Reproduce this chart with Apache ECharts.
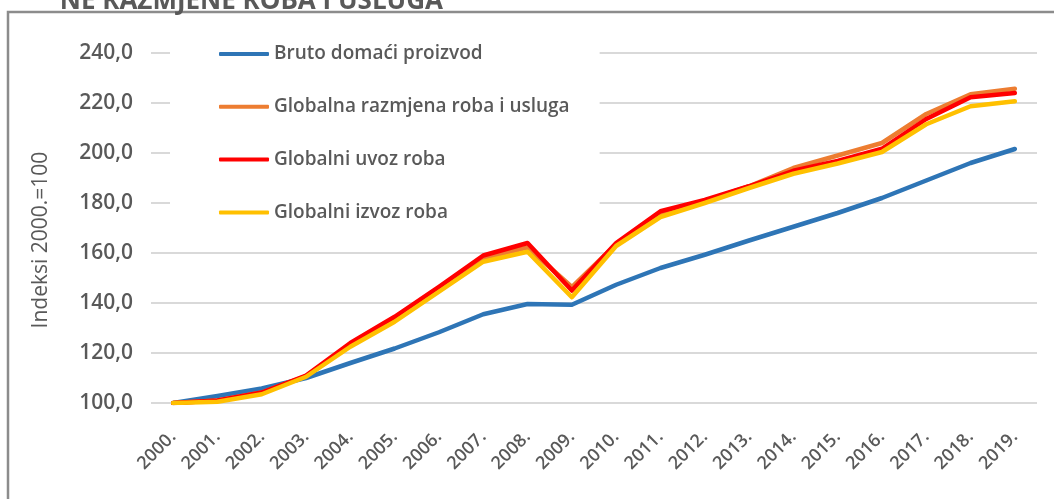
<!DOCTYPE html>
<html>
<head>
<meta charset="utf-8">
<script src="https://cdn.jsdelivr.net/npm/echarts@6/dist/echarts.min.js"></script>
<style>
  html, body { margin: 0; padding: 0; background: #fff; }
  #chart { width: 1054px; height: 499px; }
</style>
</head>
<body>
<div id="chart"></div>
<script>
  'use strict';

  // godine
  var years = ['2000.', '2001.', '2002.', '2003.', '2004.', '2005.', '2006.', '2007.', '2008.', '2009.',
    '2010.', '2011.', '2012.', '2013.', '2014.', '2015.', '2016.', '2017.', '2018.', '2019.'];

  var seriesNames = ['Bruto domaći proizvod', 'Globalna razmjena roba i usluga', 'Globalni uvoz roba', 'Globalni izvoz roba'];

  // indeksi, 2000. = 100
  var bdp = [100, 102.8, 105.8, 110, 116, 121.8, 128.3, 135.5, 139.6, 139.3,
    147.3, 154, 159.3, 165, 170.5, 176, 182, 189, 196, 201.6];
  var razmjena = [100, 101, 104.2, 110.8, 123.2, 133.5, 145.5, 158, 162.2, 146.4,
    163.6, 176, 180.7, 186.7, 194, 199, 204, 215.6, 223.5, 225.7];
  var uvoz = [100, 101, 104.2, 111, 124, 134.5, 146.5, 159, 164, 145,
    164, 176.7, 181.2, 186.7, 192.9, 196.8, 201.7, 213.6, 222.3, 224];
  var izvoz = [100, 100.5, 103.5, 110.5, 122.5, 132.5, 144.5, 156.5, 160.5, 142.3,
    162.8, 174.4, 180, 186, 191.7, 195.8, 200.4, 211.5, 218.7, 220.7];

  var colors = ['#2E75B6', '#ED7D31', '#FF0000', '#FFC000'];
  var txt = '#595959';
  var font = '"Open Sans", "Liberation Sans", Arial, sans-serif';

  function line(name, data, color) {
    return {
      name: name,
      type: 'line',
      data: data,
      symbol: 'none',
      color: color,
      lineStyle: { width: 4.5, color: color, cap: 'round', join: 'round' }
    };
  }

  var myChart = echarts.init(document.getElementById('chart'));
  var options = {
    animation: false,
    textStyle: { fontFamily: font },
    graphic: [
      {
        type: 'text',
        z: 10,
        style: {
          x: 443,
          y: 15,
          align: 'right',
          verticalAlign: 'bottom',
          text: 'NE RAZMJENE ROBA I USLUGA',
          font: 'bold 26px ' + font,
          fill: txt
        }
      },
      {
        type: 'rect',
        shape: { x: 8, y: 12, width: 1070, height: 520 },
        style: { fill: 'none', stroke: '#8c8c8c', lineWidth: 2.5 },
        z: 0
      },
      {
        type: 'text',
        rotation: Math.PI / 2,
        x: 41,
        y: 240,
        style: {
          text: 'Indeksi 2000.=100',
          align: 'center',
          verticalAlign: 'middle',
          font: '21px ' + font,
          fill: txt
        }
      }
    ],
    grid: { left: 151, right: 17, top: 53, bottom: 96, containLabel: false },
    legend: {
      orient: 'vertical',
      left: 170,
      top: 33,
      padding: [10, 30, 14, 49],
      backgroundColor: '#fff',
      icon: 'roundRect',
      itemWidth: 50,
      itemHeight: 4,
      itemGap: 30.8,
      z: 5,
      textStyle: { color: txt, fontSize: 19, fontWeight: 600, lineHeight: 22, fontFamily: font },
      data: seriesNames
    },
    xAxis: {
      type: 'category',
      data: years,
      boundaryGap: true,
      axisLine: { show: false },
      axisTick: { show: false },
      axisLabel: { rotate: 45, margin: 31, color: txt, fontSize: 18, fontWeight: 600, fontFamily: font }
    },
    yAxis: {
      type: 'value',
      min: 100,
      max: 240,
      interval: 20,
      axisLine: { show: false },
      axisTick: { show: false },
      axisLabel: {
        margin: 18,
        color: txt,
        fontSize: 21,
        fontWeight: 600,
        fontFamily: font,
        formatter: function (v) { return v.toFixed(1).replace('.', ','); }
      },
      splitLine: { lineStyle: { color: '#d9d9d9', width: 2 } }
    },
    series: [
      line(seriesNames[0], bdp, colors[0]),
      line(seriesNames[1], razmjena, colors[1]),
      line(seriesNames[2], uvoz, colors[2]),
      line(seriesNames[3], izvoz, colors[3])
    ]
  };
  myChart.setOption(options);
</script>
</body>
</html>
